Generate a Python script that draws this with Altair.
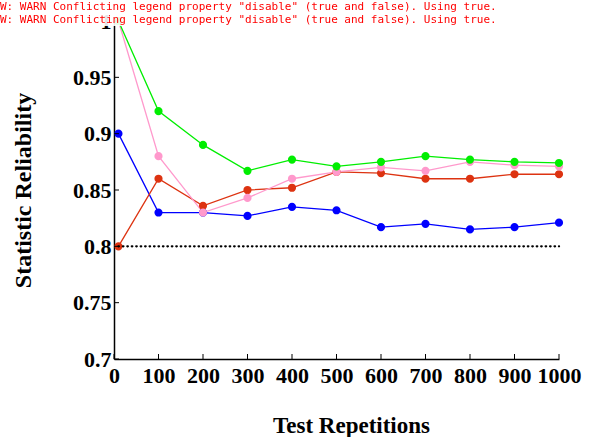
import altair as alt
import pandas as pd

# ---------------- data ----------------
test_reps = [10, 100, 200, 300, 400, 500, 600, 700, 800, 900, 1000]
rel_30k = [0.900, 0.830, 0.830, 0.827, 0.835, 0.832, 0.817, 0.820, 0.815, 0.817, 0.821]
rel_35k = [0.800, 0.860, 0.836, 0.850, 0.852, 0.866, 0.865, 0.860, 0.860, 0.864, 0.864]
rel_40k = [1.000, 0.880, 0.830, 0.843, 0.860, 0.866, 0.870, 0.867, 0.875, 0.872, 0.871]
rel_45k = [1.000, 0.920, 0.890, 0.867, 0.877, 0.871, 0.875, 0.880, 0.877, 0.875, 0.874]

constraint_x = [10, 1000]
constraint_y = [0.8, 0.8]

series_names = [
    "Statistical Validation for Cost Constraint=$30,000",
    "Statistical Validation for Cost Constraint=$35,000",
    "Statistical Validation for Cost Constraint=$40,000",
    "Statistical Validation for Cost Constraint=$45,000",
]
constraint_name = "Reliability Constraint Line in Design"
series_colors = ["#0000FF", "#DD3311", "#FF99CC", "#00EE00"]

x_ticks = [0, 100, 200, 300, 400, 500, 600, 700, 800, 900, 1000]
y_ticks = [0.7, 0.75, 0.8, 0.85, 0.9, 0.95, 1.0]

rows = []
for name, vals in zip(series_names, [rel_30k, rel_35k, rel_40k, rel_45k]):
    for xv, yv in zip(test_reps, vals):
        rows.append({"series": name, "x": xv, "y": yv})
df = pd.DataFrame(rows)
df_c = pd.DataFrame({"x": constraint_x, "y": constraint_y})
df_xt = pd.DataFrame({"x": x_ticks})
df_yt = pd.DataFrame({"y": y_ticks})

# ---------------- styles ----------------
FONT = "Liberation Serif"
W, H = 445, 338

all_names = series_names + [constraint_name]
all_colors = series_colors + ["black"]
line_dot = "M-1.6,0L1.6,0M-0.47,0A0.47,0.47,0,1,0,0.47,0A0.47,0.47,0,1,0,-0.47,0Z"

x_scale = alt.Scale(domain=[0, 1000], nice=False, zero=False)
y_scale = alt.Scale(domain=[0.7, 1.0], nice=False, zero=False)

main_x_axis = alt.Axis(
    title="Test Repetitions", values=x_ticks, format="d", tickSize=0, grid=False,
    domainColor="black", domainWidth=1.5,
    labelFont=FONT, labelFontSize=22, labelFontWeight="bold", labelColor="black",
    labelPadding=6, labelFlush=False, labelOverlap=False,
    titleFont=FONT, titleFontSize=23, titleFontWeight="bold", titleColor="black",
    titleX=237, titleY=66, titleBaseline="middle", titleAlign="center",
)
main_y_axis = alt.Axis(
    title="Statistic Reliability", values=y_ticks, format=".2~f", tickSize=0, grid=False,
    domainColor="black", domainWidth=1.5,
    labelFont=FONT, labelFontSize=22, labelFontWeight="bold", labelColor="black",
    labelPadding=3, labelOverlap=False, labelFlush=False,
    titleFont=FONT, titleFontSize=24, titleFontWeight="bold", titleColor="black",
    titleX=-91, titleY=169, titleBaseline="middle", titleAlign="center", titleAngle=270,
)

X = alt.X("x:Q", scale=x_scale, axis=main_x_axis)
Y = alt.Y("y:Q", scale=y_scale, axis=main_y_axis)

legend = alt.Legend(
    title=None, orient="none", legendX=63, legendY=-4,
    labelFont=FONT, labelFontSize=16, labelFontWeight="bold", labelColor="black",
    labelLimit=600, labelOffset=7, symbolType=line_dot, symbolSize=196,
    symbolStrokeWidth=1.3, symbolOpacity=1, rowPadding=1.2, padding=5,
    fillColor="white", strokeColor="black",
)

base = alt.Chart(df)

lines = base.mark_line(strokeWidth=1.3).encode(
    x=X, y=Y,
    color=alt.Color("series:N", scale=alt.Scale(domain=all_names, range=all_colors), legend=None),
)

points = base.mark_point(filled=True, size=38, opacity=1).encode(
    x=X, y=Y,
    fill=alt.Fill("series:N", scale=alt.Scale(domain=all_names, range=all_colors), legend=legend),
    stroke=alt.Stroke("series:N", scale=alt.Scale(domain=all_names, range=all_colors), legend=legend),
)

constraint = alt.Chart(df_c).mark_line(
    strokeDash=[0.5, 3.95], strokeCap="round", strokeWidth=2.3, color="black"
).encode(x=X, y=Y)

x_inner_ticks = alt.Chart(df_xt).mark_tick(
    orient="vertical", size=5, thickness=1, color="black", opacity=1
).encode(x=X, y=alt.value(H - 2.5))
y_inner_ticks = alt.Chart(df_yt).mark_tick(
    orient="horizontal", size=5, thickness=1, color="black", opacity=1
).encode(y=Y, x=alt.value(2.5))

chart = alt.layer(
    lines, points, constraint, x_inner_ticks, y_inner_ticks
).properties(
    width=W, height=H,
    autosize=alt.AutoSizeParams(type="none"),
    padding={"left": 114, "top": 21, "right": 31, "bottom": 78},
).configure_view(stroke="transparent")

chart.save("out.html", embed_options={"renderer": "svg", "actions": False})

# --- diagnostic: show console warnings/errors on the page ---
diag = """<script>
(function(){
  function show(kind, args){
    var d=document.getElementById('errlog');
    if(!d){d=document.createElement('div');d.id='errlog';
      d.style.cssText='position:fixed;left:0;top:0;font:11px monospace;color:red;background:rgba(255,255,255,0.9);z-index:9999;max-width:590px;white-space:pre-wrap';
      (document.body||document.documentElement).appendChild(d);}
    d.textContent += kind+': '+Array.prototype.map.call(args,function(a){
      return (a&&a.stack)?String(a.message)+' @ '+a.stack.split('\\n').slice(1,3).join(' | '):String(a)}).join(' ')+'\\n';
  }
  var oe=console.error, ow=console.warn;
  console.error=function(){show('E',arguments);oe.apply(console,arguments)};
  console.warn=function(){show('W',arguments);ow.apply(console,arguments)};
  window.addEventListener('error',function(e){show('X',[e.message])});
  window.addEventListener('unhandledrejection',function(e){show('R',[e.reason])});
})();
</script>"""
with open("out.html", "r", encoding="utf-8") as f:
    html = f.read()
if "<head>" in html:
    html = html.replace("<head>", "<head>" + diag, 1)
else:
    html = diag + html
with open("out.html", "w", encoding="utf-8") as f:
    f.write(html)
